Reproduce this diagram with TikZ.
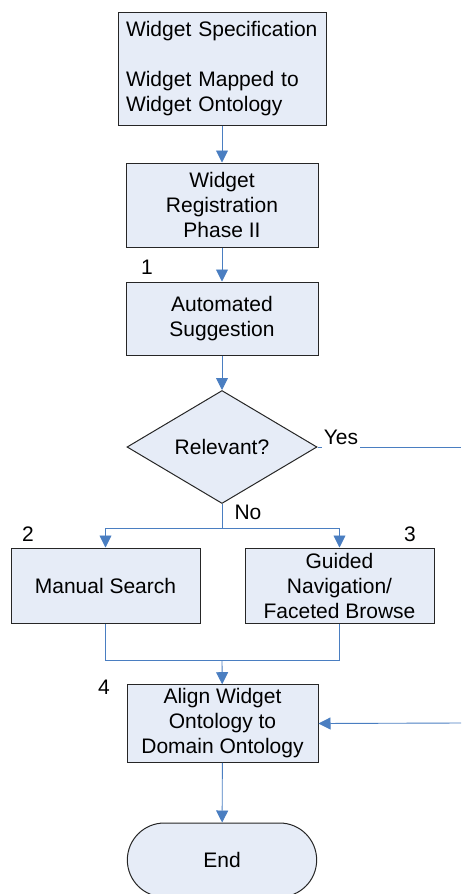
\documentclass[tikz,border=0pt]{standalone}
\usepackage{fontspec}
\setmainfont{Liberation Sans}
\usetikzlibrary{shapes.geometric, shapes.misc, arrows.meta, positioning}
\definecolor{boxfill}{RGB}{230,236,247}
\definecolor{linkblue}{RGB}{74,126,193}

\begin{document}
\begin{tikzpicture}
[x=1pt, y=-1pt,
every node/.style={font=\fontsize{21}{25}\selectfont},
box/.style={rectangle, draw=black!85, fill=boxfill, line width=1pt,
            minimum width=191pt, minimum height=74pt, align=center, inner sep=4pt},
decision/.style={diamond, draw=black!85, fill=boxfill, line width=1pt,
                 minimum width=190pt, minimum height=113pt, inner sep=0pt, aspect=1.7},
terminal/.style={rounded rectangle, draw=black!85, fill=boxfill, line width=1pt,
                 minimum width=196pt, minimum height=74pt},
flowline/.style={draw=linkblue, line width=0.9pt},
flowarrow/.style={flowline, -{Triangle[length=12pt, width=12pt]}},
num/.style={inner sep=0pt}
]
    \useasboundingbox (0,0) rectangle (461,894);

    \node[box, align=left, text width=192pt, minimum height=113pt, inner sep=8pt] (spec) at (222,68.5)
        {Widget Specification\\[25pt]Widget Mapped to\\Widget Ontology};
    \node[box, minimum width=192pt, minimum height=84pt] (reg) at (222,205) {Widget\\Registration\\Phase II};
    \node[box, minimum width=192pt, minimum height=73pt] (auto) at (222,318.5) {Automated\\Suggestion};
    \node[decision] (rel) at (222,447) {Relevant?};
    \node[box, minimum width=189pt, minimum height=75pt] (manual) at (105.5,585.5) {Manual Search};
    \node[box, minimum width=189pt, minimum height=75pt] (guided) at (339.5,585.5) {Guided\\Navigation/\\Faceted Browse};
    \node[box, minimum height=73pt] (align) at (222.5,723.5) {Align Widget\\Ontology to\\Domain Ontology};
    \node[terminal] (finish) at (222,860) {End};

    % step numbers
    \node[num] (n1) at (147,267) {1};
    \node[num] (n2) at (28,534) {2};
    \node[num] (n3) at (410,534) {3};
    \node[num] (n4) at (104,687) {4};

    \coordinate (split) at (222,528);
    \coordinate (merge) at (222,660);
    \coordinate (toright) at (461,447);
    \coordinate (fromright) at (461,723);

    \draw[flowarrow] (spec) -- (reg);
    \draw[flowarrow] (reg) -- (auto);
    \draw[flowarrow] (auto) -- (rel);
    \draw[flowline] (rel.east) -- (toright);
    \node[fill=white, inner xsep=2pt, inner ysep=7pt] (yes) at (341,437) {Yes};
    \draw[flowline] (rel.south) -- (split);
    \node (no) at (248,512) {No};
    \draw[flowarrow] (split) -| (manual.north);
    \draw[flowarrow] (split) -| (guided.north);
    \draw[flowline] (manual.south) |- (merge);
    \draw[flowline] (guided.south) |- (merge);
    \draw[flowarrow] (merge) -- (align);
    \draw[flowarrow] (fromright) -- (align.east);
    \draw[flowarrow] (align) -- (finish);
\end{tikzpicture}
\end{document}
